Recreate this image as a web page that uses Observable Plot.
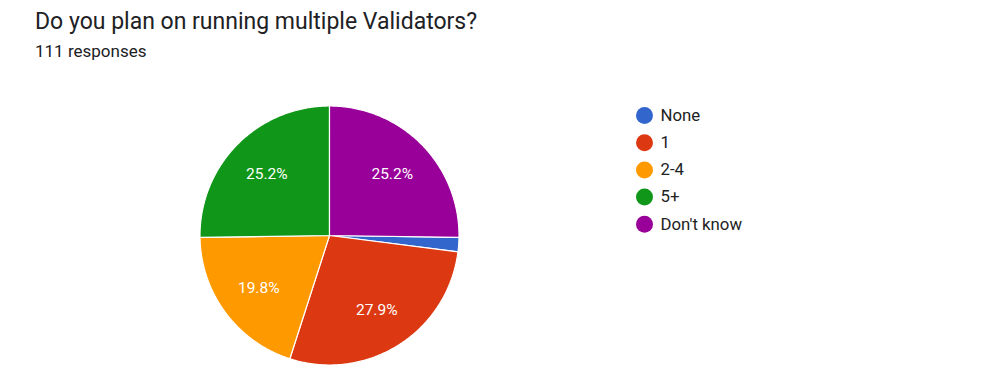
<!DOCTYPE html>
<html>
<head>
<meta charset="utf-8">
<script src="https://cdn.jsdelivr.net/npm/d3@7"></script>
<script src="https://cdn.jsdelivr.net/npm/@observablehq/plot@0.6"></script>
<style>
  html, body { margin: 0; padding: 0; background: #fff; }
  #wrap { position: relative; width: 1000px; height: 384px; overflow: hidden; font-family: Roboto, "Noto Sans", sans-serif; }
  #title { position: absolute; left: 35px; top: 9.5px; font-size: 23px; line-height: 23px; color: #202124; white-space: nowrap; }
  #sub { position: absolute; left: 35px; top: 43px; font-size: 17px; line-height: 17px; color: #202124; white-space: nowrap; }
  #chart { position: absolute; left: 0; top: 0; }
</style>
</head>
<body>
<div id="wrap">
  <div id="chart"></div>
  <div id="title">Do you plan on running multiple Validators?</div>
  <div id="sub">111 responses</div>
</div>
<script>
// ---- data ----
const categories = ["None", "1", "2-4", "5+", "Don't know"];
const counts = [2, 31, 22, 28, 28];
const colors = ["#3366cc", "#dc3912", "#ff9900", "#109618", "#990099"];

// ---- layout ----
const W = 1000, H = 384;
const cx = 329, cy = 235, R = 129.5;
const legendX = 644, legendY0 = 115, legendStep = 27.2, legendTextX = 660;

const total = d3.sum(counts);
// Don't know ends at 12 o'clock; slices go clockwise starting with "None"
const start = 2 * Math.PI * counts[4] / total;
const pie = d3.pie().sort(null).value(d => d.count).startAngle(start).endAngle(start + 2 * Math.PI);
const data = categories.map((c, i) => ({cat: c, count: counts[i]}));
const arcs = pie(data);

// slice outlines (angle measured clockwise from 12 o'clock)
const pts = [];
for (const a of arcs) {
  const n = Math.max(2, Math.ceil((a.endAngle - a.startAngle) / (Math.PI / 360)));
  pts.push({cat: a.data.cat, x: cx, y: cy});
  for (let k = 0; k <= n; k++) {
    const t = a.startAngle + (a.endAngle - a.startAngle) * k / n;
    pts.push({cat: a.data.cat, x: cx + R * Math.sin(t), y: cy - R * Math.cos(t)});
  }
  pts.push({cat: a.data.cat, x: cx, y: cy});
}

// labels at 0.68 R along mid-angle (skip tiny slices)
const labels = arcs.filter(a => a.data.count / total > 0.05).map(a => {
  const m = (a.startAngle + a.endAngle) / 2;
  return {x: cx + 0.68 * R * Math.sin(m), y: cy - 0.68 * R * Math.cos(m),
          text: (100 * a.data.count / total).toFixed(1) + "%"};
});

const legend = categories.map((c, i) => ({cat: c, x: legendX, tx: legendTextX, y: legendY0 + i * legendStep}));

const chart = Plot.plot({
  width: W, height: H,
  margin: 0,
  x: {domain: [0, W], range: [0, W], axis: null},
  y: {domain: [0, H], range: [0, H], axis: null},
  color: {domain: categories, range: colors},
  style: {fontFamily: "Roboto, 'Noto Sans', sans-serif", fontSize: "15px", background: "transparent"},
  marks: [
    Plot.line(pts, {x: "x", y: "y", z: "cat", fill: "cat", stroke: "white", strokeWidth: 1.2, strokeLinejoin: "round"}),
    Plot.text(labels, {x: "x", y: "y", text: "text", fill: "white", fontSize: 15.5}),
    Plot.dot(legend, {x: "x", y: "y", r: 8.5, fill: "cat", stroke: null}),
    Plot.text(legend, {x: "tx", y: "y", text: "cat", textAnchor: "start", fill: "#222", fontSize: 16.8})
  ]
});
document.getElementById("chart").appendChild(chart);
</script>
</body>
</html>
